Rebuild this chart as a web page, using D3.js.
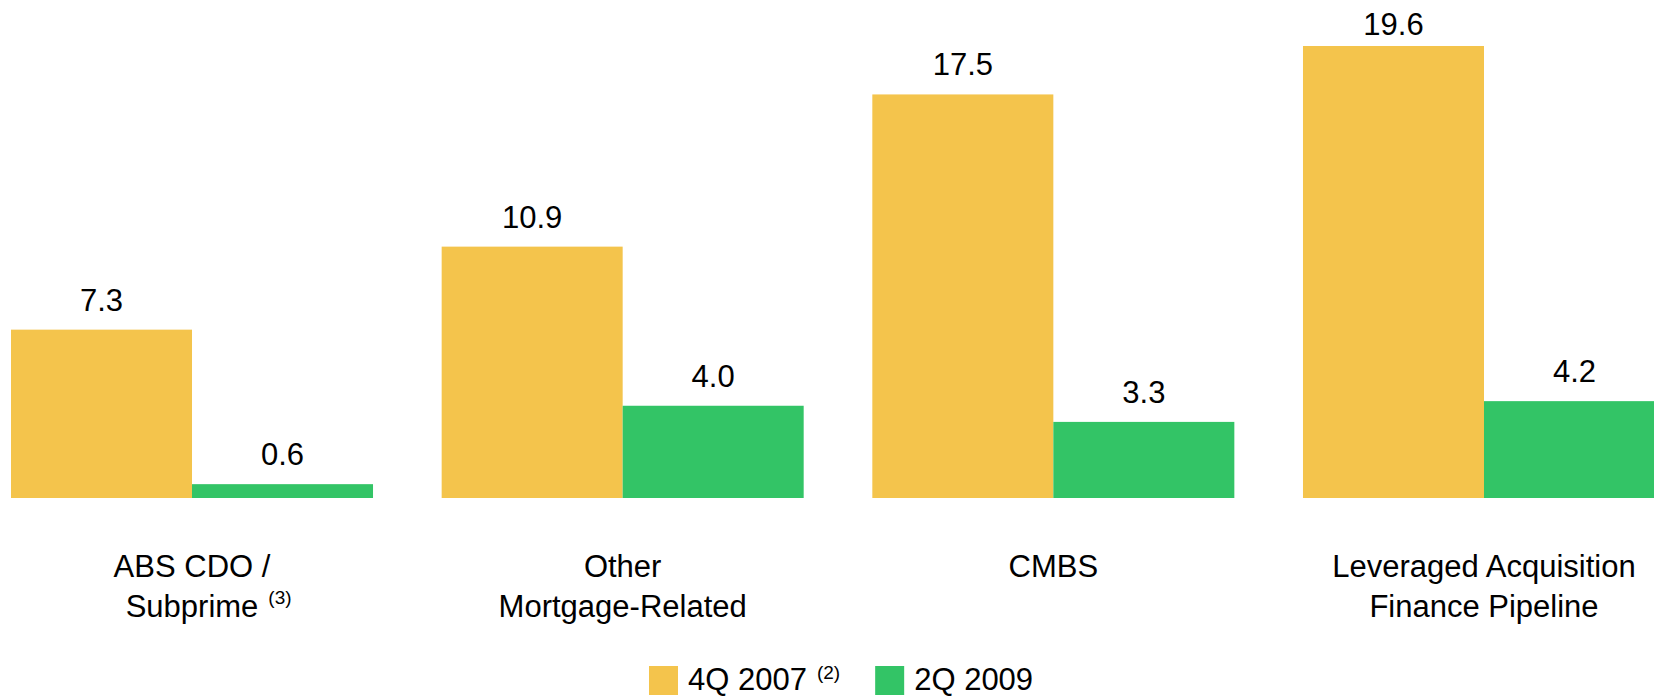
<!DOCTYPE html>
<html>
<head>
<meta charset="utf-8">
<script src="https://cdn.jsdelivr.net/npm/d3@7"></script>
<style>
  html, body { margin: 0; padding: 0; background: #fff; }
  svg { display: block; font-family: "Liberation Sans", Arial, sans-serif; }
  .val-label { font-size: 31px; fill: #000; text-anchor: middle; }
  .cat-label { font-size: 31px; fill: #000; text-anchor: middle; }
  .leg-label { font-size: 31px; fill: #000; }
  .note { font-size: 19px; fill: #000; }
</style>
</head>
<body>
<svg id="chart" width="1654" height="696"></svg>
<script>
// ── DATA ────────────────────────────────────────────────────────────────
const categoryLines = [
  ['ABS CDO /', 'Subprime'],
  ['Other', 'Mortgage-Related'],
  ['CMBS'],
  ['Leveraged Acquisition', 'Finance Pipeline'],
];
const categoryNotes = ['(3)', '', '', ''];
const seriesNames = ['4Q 2007', '2Q 2009'];
const seriesNotes = ['(2)', ''];
const q4_2007 = [7.3, 10.9, 17.5, 19.6];
const q2_2009 = [0.6, 4.0, 3.3, 4.2];

const colors = ['#F4C44C', '#33C466'];

// ── SETUP ───────────────────────────────────────────────────────────────
const svg = d3.select('#chart');
const cats = categoryLines.map(l => l.join(' '));
const seriesVals = [q4_2007, q2_2009];

const baseY = 498, topVal = 19.6, topY = 46;

const x0 = d3.scaleBand().domain(cats).range([11, 1665]).paddingInner(0.1594).paddingOuter(0);
const x1 = d3.scaleBand().domain(seriesNames).range([0, x0.bandwidth()]);
const y = d3.scaleLinear().domain([0, topVal]).range([baseY, topY]);

const rows = cats.map((c, i) => seriesNames.map((s, j) => ({ cat: c, s, v: seriesVals[j][i], j })));

const groups = svg.selectAll('g.grp').data(rows).join('g')
  .attr('class', 'grp')
  .attr('transform', (d, i) => `translate(${x0(cats[i])},0)`);

groups.selectAll('rect').data(d => d).join('rect')
  .attr('x', d => x1(d.s))
  .attr('y', d => y(d.v))
  .attr('width', x1.bandwidth())
  .attr('height', d => y(0) - y(d.v))
  .attr('fill', d => colors[d.j]);

groups.selectAll('text.val-label').data(d => d).join('text')
  .attr('class', 'val-label')
  .attr('x', d => x1(d.s) + x1.bandwidth() / 2)
  .attr('y', d => Math.max(y(d.v) - 19, 35))
  .text(d => d3.format('.1f')(d.v));

// category labels
const lineH = 39.5, firstBase = 577, supGap = 10;
cats.forEach((c, i) => {
  const cx = x0(c) + x0.bandwidth() / 2;
  let last;
  categoryLines[i].forEach((ln, k) => {
    last = svg.append('text').attr('class', 'cat-label')
      .attr('x', cx).attr('y', firstBase + k * lineH).text(ln);
  });
  if (categoryNotes[i]) {
    const w = last.node().getComputedTextLength();
    svg.append('text').attr('class', 'note')
      .attr('x', cx + w / 2 + supGap)
      .attr('y', firstBase + (categoryLines[i].length - 1) * lineH - 13)
      .text(categoryNotes[i]);
  }
});

// legend
const leg = svg.append('g').attr('transform', 'translate(649,0)');
let lx = 0;
seriesNames.forEach((s, j) => {
  leg.append('rect').attr('x', lx).attr('y', 666).attr('width', 29).attr('height', 29).attr('fill', colors[j]);
  lx += 39;
  const t = leg.append('text').attr('class', 'leg-label').attr('x', lx).attr('y', 689.5).text(s);
  lx += t.node().getComputedTextLength();
  if (seriesNotes[j]) {
    const n = leg.append('text').attr('class', 'note').attr('x', lx + supGap).attr('y', 679).text(seriesNotes[j]);
    lx += supGap + n.node().getComputedTextLength();
  }
  lx += 35;
});
</script>
</body>
</html>
